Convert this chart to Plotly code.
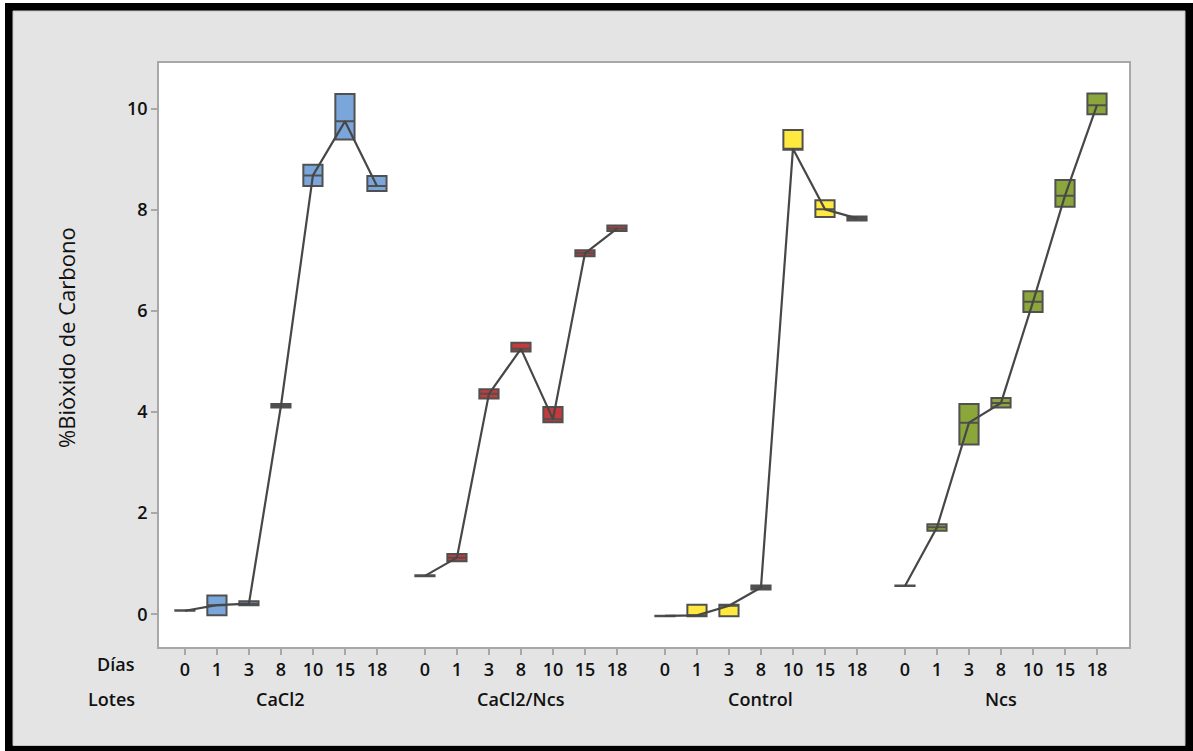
import plotly.graph_objects as go

# ---------------- data ----------------
dias = ["0", "1", "3", "8", "10", "15", "18"]
lotes = ["CaCl2", "CaCl2/Ncs", "Control", "Ncs"]

cacl2_q1 = [0.07, -0.02, 0.18, 4.09, 8.47, 9.39, 8.37]
cacl2_med = [0.07, 0.18, 0.21, 4.12, 8.68, 9.75, 8.47]
cacl2_q3 = [0.08, 0.37, 0.26, 4.16, 8.89, 10.29, 8.67]

cacl2ncs_q1 = [0.75, 1.05, 4.27, 5.20, 3.80, 7.08, 7.58]
cacl2ncs_med = [0.76, 1.12, 4.36, 5.25, 3.86, 7.14, 7.63]
cacl2ncs_q3 = [0.77, 1.19, 4.45, 5.37, 4.10, 7.20, 7.69]

control_q1 = [-0.04, -0.04, -0.04, 0.49, 9.19, 7.86, 7.79]
control_med = [-0.03, -0.02, 0.17, 0.53, 9.21, 8.01, 7.83]
control_q3 = [-0.03, 0.19, 0.19, 0.57, 9.58, 8.19, 7.87]

ncs_q1 = [0.56, 1.65, 3.36, 4.09, 5.98, 8.06, 9.89]
ncs_med = [0.56, 1.72, 3.79, 4.18, 6.18, 8.28, 10.07]
ncs_q3 = [0.57, 1.78, 4.16, 4.28, 6.39, 8.59, 10.30]

colors = ["#7BA6DC", "#C63A3A", "#FFE93F", "#8BA63A"]

groups = [
    (cacl2_q1, cacl2_med, cacl2_q3),
    (cacl2ncs_q1, cacl2ncs_med, cacl2ncs_q3),
    (control_q1, control_med, control_q3),
    (ncs_q1, ncs_med, ncs_q3),
]

# ---------------- layout geometry ----------------
W, H = 1193, 751
L, R, T, B = 159, 1129, 63, 647
PW, PH = R - L, B - T


def px(x):
    return (x - L) / PW


def py(y):
    return (B - y) / PH


GSTEP = 7.5
TEXT = "#111111"
FONT = "Open Sans"

fig = go.Figure()

tickvals, ticktext = [], []
for g, (q1, med, q3) in enumerate(groups):
    xs = [g * GSTEP + i for i in range(len(dias))]
    tickvals += xs
    ticktext += dias
    fig.add_trace(go.Box(
        x=xs, q1=q1, median=med, q3=q3, lowerfence=q1, upperfence=q3,
        width=0.6, whiskerwidth=0, boxpoints=False,
        fillcolor=colors[g], line=dict(color="#505050", width=2),
        hoverinfo="skip", showlegend=False,
    ))
for g, (q1, med, q3) in enumerate(groups):
    xs = [g * GSTEP + i for i in range(len(dias))]
    fig.add_trace(go.Scatter(
        x=xs, y=med, mode="lines",
        line=dict(color="#474747", width=2.2),
        hoverinfo="skip", showlegend=False,
    ))

shapes = [
    dict(type="rect", xref="paper", yref="paper", layer="below",
         x0=px(0), x1=px(W), y0=py(H), y1=py(0),
         fillcolor="white", line=dict(width=0)),
    dict(type="rect", xref="paper", yref="paper", layer="below",
         x0=px(5), x1=px(W), y0=py(H), y1=py(3),
         fillcolor="black", line=dict(width=0)),
    dict(type="rect", xref="paper", yref="paper", layer="below",
         x0=px(13), x1=px(1185), y0=py(745.5), y1=py(11),
         fillcolor="#e4e4e4", line=dict(color="#c4c4c4", width=1)),
    dict(type="rect", xref="paper", yref="paper", layer="below",
         x0=0, x1=1, y0=0, y1=1,
         fillcolor="white", line=dict(width=0)),
]

lab_font = dict(family=FONT, size=18, color=TEXT, weight=600)
annotations = [
    dict(text="Días", xref="paper", yref="paper", x=px(137), y=py(664),
         xanchor="right", yanchor="middle", showarrow=False, font=lab_font),
    dict(text="Lotes", xref="paper", yref="paper", x=px(137), y=py(699),
         xanchor="right", yanchor="middle", showarrow=False, font=lab_font),
    dict(text="%Biòxido de Carbono", xref="paper", yref="paper",
         x=px(66), y=py(338), xanchor="center", yanchor="middle",
         textangle=-90, showarrow=False,
         font=dict(family=FONT, size=22, color=TEXT, weight=500)),
]
for g, name in enumerate(lotes):
    annotations.append(dict(
        text=name, xref="x", yref="paper", x=g * GSTEP + 3, y=py(699),
        xanchor="center", yanchor="middle", showarrow=False, font=lab_font))

fig.update_layout(
    width=W, height=H,
    margin=dict(l=L, r=W - R, t=T, b=H - B, pad=0),
    paper_bgcolor="white", plot_bgcolor="white",
    shapes=shapes, annotations=annotations,
    showlegend=False,
    xaxis=dict(range=[-0.81, 29.5], tickmode="array", tickvals=tickvals,
               ticktext=ticktext, showgrid=False, zeroline=False,
               showline=True, mirror=True, linecolor="#a8a8a8", linewidth=1.5,
               ticks="outside", ticklen=6, tickcolor="#a8a8a8", tickwidth=1.5,
               tickfont=lab_font),
    yaxis=dict(range=[-0.647, 10.904], tickmode="array",
               tickvals=[0, 2, 4, 6, 8, 10], showgrid=False, zeroline=False,
               showline=True, mirror=True, linecolor="#a8a8a8", linewidth=1.5,
               ticks="outside", ticklen=6, tickcolor="#a8a8a8", tickwidth=1.5,
               tickfont=lab_font),
)

fig.write_html("out.html")
